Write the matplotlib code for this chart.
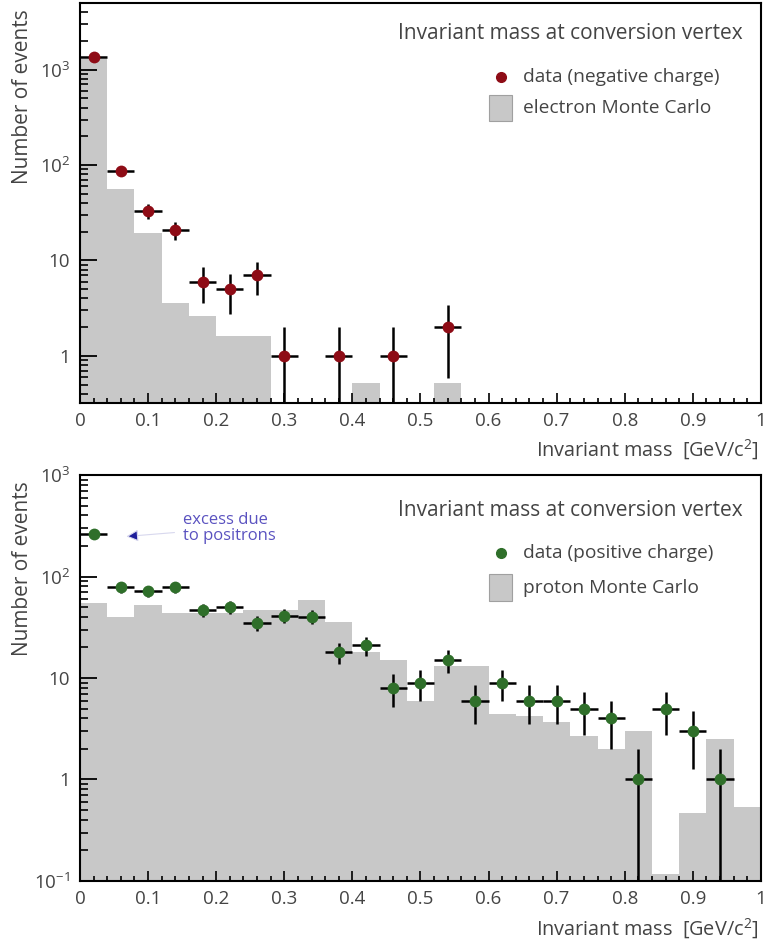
import numpy as np
import matplotlib
matplotlib.use("Agg")
import matplotlib.pyplot as plt
from matplotlib.patches import Rectangle
from matplotlib.ticker import FixedLocator, LogLocator, NullFormatter, FuncFormatter

plt.rcParams['font.family'] = ['Open Sans', 'DejaVu Sans']
plt.rcParams['mathtext.fontset'] = 'custom'
plt.rcParams['mathtext.rm'] = 'Open Sans'
plt.rcParams['mathtext.it'] = 'Open Sans'

# bins: 25 bins of 0.04 GeV/c^2
edges = np.round(np.arange(0, 1.0001, 0.04), 2)

# top panel: negative charge
neg_x = [0.02, 0.06, 0.10, 0.14, 0.18, 0.22, 0.26, 0.30, 0.38, 0.46, 0.54]
neg_n = [1350, 86, 33, 21, 6, 5, 7, 1, 1, 1, 2]
electron_mc = [1300, 56, 19.5, 3.6, 2.6, 1.6, 1.6, 0, 0, 0, 0.52, 0, 0, 0.52,
               0, 0, 0, 0, 0, 0, 0, 0, 0, 0, 0]

# bottom panel: positive charge
pos_x = [0.02, 0.06, 0.10, 0.14, 0.18, 0.22, 0.26, 0.30, 0.34, 0.38, 0.42,
         0.46, 0.50, 0.54, 0.58, 0.62, 0.66, 0.70, 0.74, 0.78, 0.82, 0.86,
         0.90, 0.94]
pos_n = [265, 78, 72, 78, 47, 50, 35, 41, 40, 18, 21, 8, 9, 15, 6, 9, 6, 6,
         5, 4, 1, 5, 3, 1]
proton_mc = [55, 40, 52, 44, 44, 44, 47, 47, 59, 36, 18, 15, 6, 13, 13, 4.4,
             4.2, 3.7, 2.7, 2.0, 3.0, 0.117, 0.47, 2.5, 0.53]

gray = '#c8c8c8'
txt = '#444444'
red = '#8e0c16'
green = '#2f6f2a'


def decade_fmt(v, pos):
    if v == 1:
        return '1'
    if v == 10:
        return '10'
    return r'$10^{%d}$' % int(round(np.log10(v)))


def style_axes(ax, ymin, ymax):
    ax.set_yscale('log')
    ax.set_xlim(0, 1)
    ax.set_ylim(ymin, ymax)
    ax.xaxis.set_major_locator(FixedLocator(np.round(np.arange(0, 1.01, 0.1), 1)))
    ax.xaxis.set_minor_locator(FixedLocator(np.round(np.arange(0, 1.01, 0.02), 2)))
    ax.xaxis.set_major_formatter(FuncFormatter(lambda v, p: '%g' % v))
    ax.yaxis.set_major_locator(LogLocator(base=10, numticks=10))
    ax.yaxis.set_minor_locator(LogLocator(base=10, subs=np.arange(2, 10), numticks=20))
    ax.yaxis.set_major_formatter(FuncFormatter(decade_fmt))
    ax.yaxis.set_minor_formatter(NullFormatter())
    ax.tick_params(axis='x', which='major', direction='in', length=7, width=1.2,
                   labelsize=13.5, labelcolor=txt, pad=6.5)
    ax.tick_params(axis='x', which='minor', direction='in', length=3.5, width=1.2)
    ax.tick_params(axis='y', which='major', direction='in', length=12, width=1.3,
                   labelsize=13.5, labelcolor=txt, pad=7)
    ax.tick_params(axis='y', which='minor', direction='in', length=6, width=1.2)
    for s in ax.spines.values():
        s.set_linewidth(1.5)
    ax.text(-0.085, 0.985, 'Number of events', transform=ax.transAxes,
            rotation=90, ha='center', va='top', fontsize=15, color=txt)
    ax.text(0.997, -0.118, r'Invariant mass  [GeV/c$^{2}$]', transform=ax.transAxes,
            ha='right', va='center', fontsize=14.3, color=txt)


def draw_points(ax, x, n, color):
    n = np.array(n, dtype=float)
    err = np.sqrt(n)
    lo = np.minimum(err, n - 1e-4)
    ax.errorbar(x, n, yerr=[lo, err], xerr=0.02, fmt='o', color=color,
                ecolor='black', elinewidth=1.8, markersize=8.5,
                markeredgewidth=0, capsize=0, zorder=3)


def key_box(ax, title, title_y, data_label, data_y, mc_label, mc_y, color):
    ax.text(0.973, title_y, title, transform=ax.transAxes, ha='right',
            va='center', fontsize=15, color=txt)
    ax.plot([0.619], [data_y], 'o', color=color, markersize=7,
            transform=ax.transAxes, clip_on=False)
    ax.text(0.650, data_y, data_label, transform=ax.transAxes, ha='left',
            va='center', fontsize=13.8, color=txt)
    ax.add_patch(Rectangle((0.601, mc_y - 0.033), 0.034, 0.066,
                           transform=ax.transAxes, facecolor=gray,
                           edgecolor='#a0a0a0', linewidth=0.8))
    ax.text(0.650, mc_y, mc_label, transform=ax.transAxes, ha='left',
            va='center', fontsize=13.8, color=txt)


fig = plt.figure(figsize=(7.66, 9.41), dpi=100)
ax1 = fig.add_axes([0.1044, 0.5717, 0.8890, 0.4251])
ax2 = fig.add_axes([0.1044, 0.0638, 0.8890, 0.4314])

# top panel
ax1.stairs(electron_mc, edges, fill=True, color=gray, baseline=1e-6, zorder=1)
draw_points(ax1, neg_x, neg_n, red)
style_axes(ax1, 0.32, 5000)
key_box(ax1, 'Invariant mass at conversion vertex', 0.925,
        'data (negative charge)', 0.815, 'electron Monte Carlo', 0.7375, red)

# bottom panel
ax2.stairs(proton_mc, edges, fill=True, color=gray, baseline=1e-6, zorder=1)
draw_points(ax2, pos_x, pos_n, green)
style_axes(ax2, 0.1, 1000)
key_box(ax2, 'Invariant mass at conversion vertex', 0.913,
        'data (positive charge)', 0.808, 'proton Monte Carlo', 0.722, green)
ax2.annotate('excess due\nto positrons', xy=(0.068, 248), xytext=(0.151, 300),
             fontsize=12, color='#5a52c0', ha='left', va='center', linespacing=0.95,
             arrowprops=dict(arrowstyle='-|>', fc='#1e1e9a', ec='#d8d8ee', lw=0.8,
                             mutation_scale=18, shrinkA=4, shrinkB=0))

fig.savefig('out.png', dpi=100)
